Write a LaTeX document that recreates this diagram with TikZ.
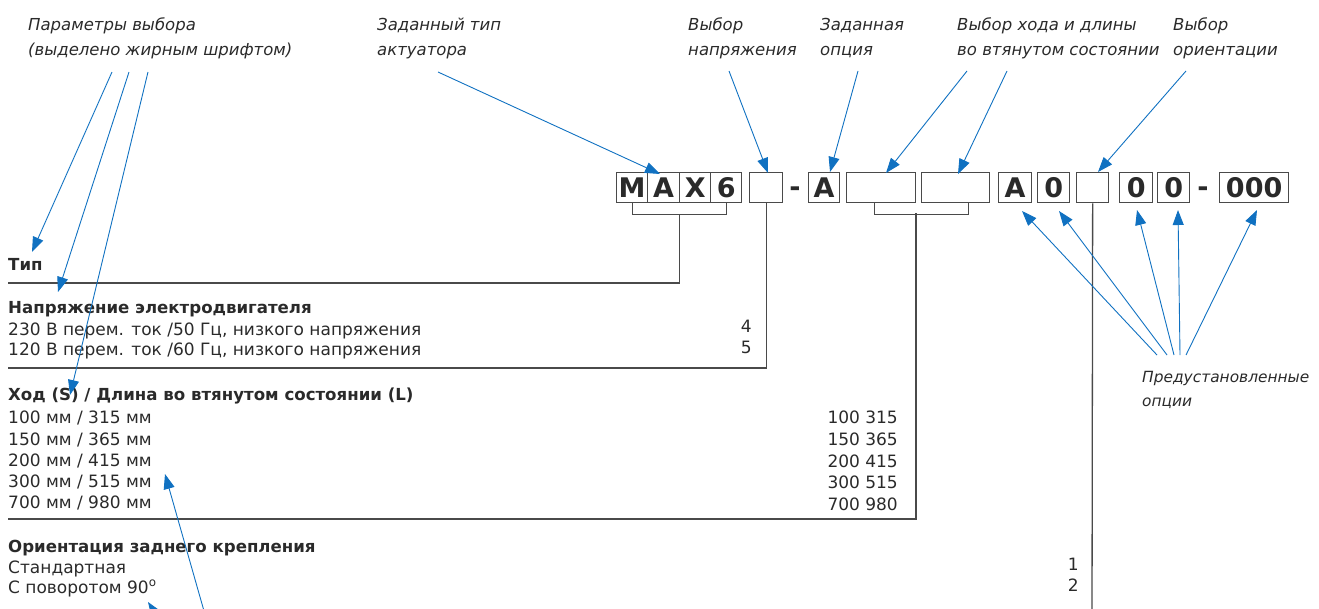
\documentclass[tikz,border=0pt]{standalone}
\usepackage{fontspec}
\setmainfont{DejaVu Sans}
\usetikzlibrary{arrows.meta,calc}
\definecolor{arrowblue}{HTML}{1071C1}
\definecolor{txt}{HTML}{2A2A2A}
\definecolor{ln}{HTML}{4A4A4A}
\begin{document}
\begin{tikzpicture}[x=1pt,y=-1pt,
  lab/.style={anchor=base west, inner sep=0pt, font=\fontsize{16.5}{16}\selectfont\itshape, text=txt},
  labsm/.style={lab, font=\fontsize{15.4}{16}\selectfont\itshape},
  head/.style={anchor=base west, inner sep=0pt, font=\fontsize{16.6}{16}\selectfont\bfseries, text=txt},
  item/.style={anchor=base west, inner sep=0pt, font=\fontsize{17}{17}\selectfont, text=txt},
  num/.style={anchor=base east, inner sep=0pt, font=\fontsize{17}{17}\selectfont, text=txt},
  cbox/.style={draw=ln, line width=1.3pt, minimum height=30pt, inner sep=0pt, anchor=north west, font=\fontsize{27}{27}\selectfont\bfseries, text=txt},
  dashsym/.style={anchor=base, inner sep=0pt, font=\fontsize{27}{27}\selectfont\bfseries, text=txt},
  blk/.style={draw=ln, line width=1.3pt},
  barrow/.style={draw=arrowblue, line width=0.9pt, -{Triangle[length=15pt,width=11pt,fill=arrowblue]}}
]
\useasboundingbox (0,0) rectangle (1319,608);
\clip (0,0) rectangle (1319,608);

% top labels
\node[lab] (p1) at (28,30) {Параметры выбора};
\node[lab] (p2) at (28,55) {(выделено жирным шрифтом)};
\node[lab] (t1) at (377,30) {Заданный тип};
\node[lab] (t2) at (377,55) {актуатора};
\node[lab] (v1) at (688,30) {Выбор};
\node[lab] (v2) at (688,55) {напряжения};
\node[lab] (o1) at (820,30) {Заданная};
\node[lab] (o2) at (820,55) {опция};
\node[lab] (s1) at (957,30) {Выбор хода и длины};
\node[lab] (s2) at (957,55) {во втянутом состоянии};
\node[lab] (r1) at (1173,30) {Выбор};
\node[lab] (r2) at (1173,55) {ориентации};
\node[labsm] (q1) at (1142,382) {Предустановленные};
\node[labsm] (q2) at (1142,406) {опции};

% code boxes
\node[cbox, minimum width=31pt] (bM) at (616,172) {M};
\node[cbox, minimum width=32pt] (bA) at (647,172) {A};
\node[cbox, minimum width=31pt] (bX) at (679,172) {X};
\node[cbox, minimum width=31pt] (b6) at (710,172) {6};
\node[cbox, minimum width=33pt] (bV) at (749,172) {};
\node[dashsym] (d1) at (795,196) {-};
\node[cbox, minimum width=31pt] (bA2) at (808,172) {A};
\node[cbox, minimum width=69pt] (bS1) at (846,172) {};
\node[cbox, minimum width=68pt] (bS2) at (921,172) {};
\node[cbox, minimum width=33pt] (bA3) at (998,172) {A};
\node[cbox, minimum width=32pt] (b0a) at (1037,172) {0};
\node[cbox, minimum width=32pt] (bO) at (1076,172) {};
\node[cbox, minimum width=33pt] (b0b) at (1119,172) {0};
\node[cbox, minimum width=32pt] (b0c) at (1157,172) {0};
\node[dashsym] (d2) at (1203,196) {-};
\node[cbox, minimum width=69pt] (b000) at (1219,172) {000};

% left texts
\node[head] (h1) at (8,270) {Тип};
\node[head] (h2) at (8,313) {Напряжение электродвигателя};
\node[item] (h2a) at (8,335) {230 В перем. ток /50 Гц, низкого напряжения};
\node[item] (h2b) at (8,355) {120 В перем. ток /60 Гц, низкого напряжения};
\node[num] (n4) at (752,332) {4};
\node[num] (n5) at (752,353) {5};
\node[head] (h3) at (8,400) {Ход (S) / Длина во втянутом состоянии (L)};
\node[item] (h3a) at (8,423) {100 мм / 315 мм};
\node[item] (h3b) at (8,445) {150 мм / 365 мм};
\node[item] (h3c) at (8,466) {200 мм / 415 мм};
\node[item] (h3d) at (8,487) {300 мм / 515 мм};
\node[item] (h3e) at (8,508) {700 мм / 980 мм};
\node[num] (m1) at (898,423) {100 315};
\node[num] (m2) at (898,445) {150 365};
\node[num] (m3) at (898,467) {200 415};
\node[num] (m4) at (898,488) {300 515};
\node[num] (m5) at (898,510) {700 980};
\node[head] (h4) at (8,552) {Ориентация заднего крепления};
\node[item] (h4a) at (8,573) {Стандартная};
\node[item] (h4b) at (8,593) {С поворотом 90\textsuperscript{o}};
\node[num] (k1) at (1079,570) {1};
\node[num] (k2) at (1079,591) {2};

% black connector lines
\coordinate (L1) at (8,283);
\coordinate (L2) at (8,368);
\coordinate (L3) at (8,519);
\coordinate (L4) at (1092,620);
\draw[blk] (bM.south) -- ++(0,11) -| (b6.south);
\draw[blk] ($(bM.south)!0.5!(b6.south)+(0,11)$) |- (L1);
\draw[blk] (bV.south) |- (L2);
\draw[blk] ($(bS1.south)+(-7,0)$) -- ++(0,11) -| ($(bS2.south)+(13,0)$);
\draw[blk] (916,213) |- (L3);
\draw[blk] (bO.south) -- (L4);

% blue arrows
\coordinate (pa) at (112,72);
\coordinate (pb) at (129,72);
\coordinate (pc) at (148,72);
\coordinate (pat) at (32,252);
\coordinate (pbt) at (58,292);
\coordinate (pct) at (70,395);
\draw[barrow] (pa) -- (pat);
\draw[barrow] (pb) -- (pbt);
\draw[barrow] (pc) -- (pct);

\coordinate (ta) at (438,72);
\draw[barrow] (ta) -- (660,174);
\coordinate (va) at (729,71);
\draw[barrow] (va) -- (768,173);
\coordinate (oa) at (858,71);
\draw[barrow] (oa) -- (830,172);
\coordinate (sa) at (967,71);
\coordinate (sb) at (1007,71);
\draw[barrow] (sa) -- (886,173);
\draw[barrow] (sb) -- (958,174);
\coordinate (ra) at (1186,71);
\draw[barrow] (ra) -- (1098,172);

\coordinate (qa) at (1157,355);
\coordinate (qb) at (1167,355);
\coordinate (qc) at (1174,355);
\coordinate (qd) at (1180,355);
\coordinate (qe) at (1186,355);
\draw[barrow] (qa) -- (1022,211);
\draw[barrow] (qb) -- (1059,211);
\draw[barrow] (qc) -- (1137,210);
\draw[barrow] (qd) -- (1178,210);
\draw[barrow] (qe) -- (1257,210);

\coordinate (ba) at (206,618);
\draw[barrow] (ba) -- (165,474);
\coordinate (bb) at (180,650);
\draw[barrow] (bb) -- (148,602);
\end{tikzpicture}
\end{document}
